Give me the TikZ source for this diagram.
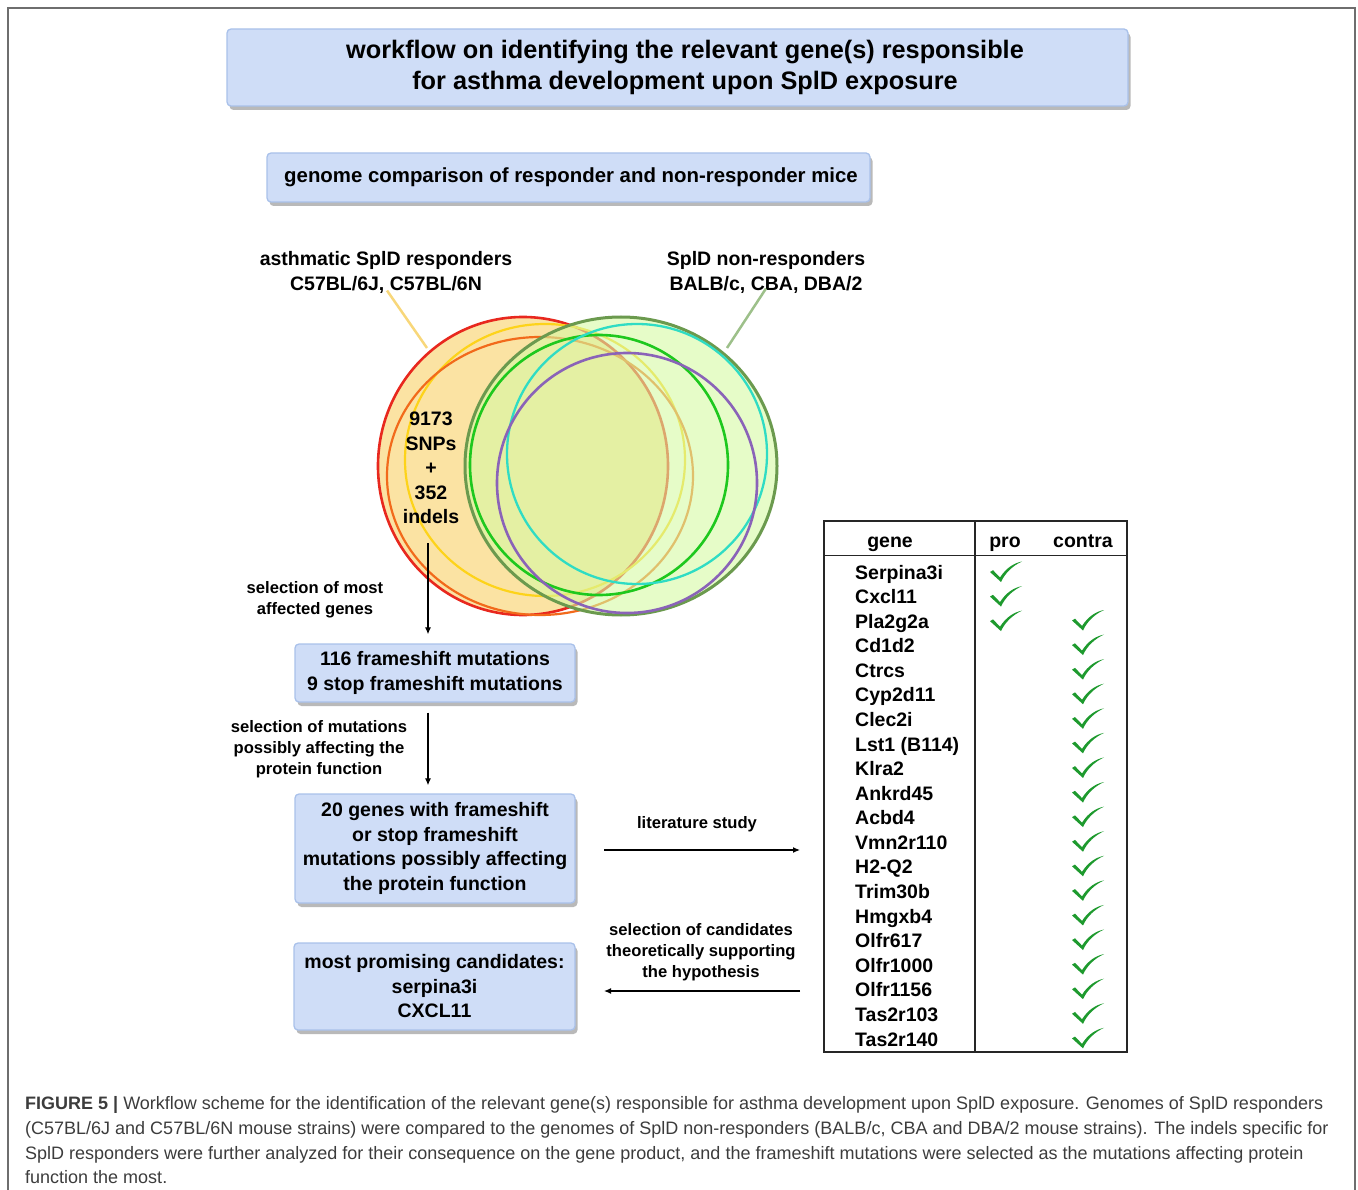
\documentclass[tikz,border=0pt]{standalone}
\usepackage{fontspec}
\setmainfont{Liberation Sans}
\usetikzlibrary{shadows,arrows.meta}
\definecolor{boxfill}{HTML}{CFDDF7}
\definecolor{boxline}{HTML}{A9C1EA}
\definecolor{framegray}{HTML}{6E6E6E}
\definecolor{vred}{HTML}{E8281E}
\definecolor{vyellow}{HTML}{FDD31A}
\definecolor{vorange}{HTML}{F26A1B}
\definecolor{vleftfill}{HTML}{FBE3A3}
\definecolor{vgreenfill}{HTML}{D5FAA3}
\definecolor{volive}{HTML}{6B9A4E}
\definecolor{vgreen}{HTML}{1EC81E}
\definecolor{vcyan}{HTML}{2FDCC4}
\definecolor{vpurple}{HTML}{8A63B8}
\definecolor{leadyellow}{HTML}{F8D77A}
\definecolor{leadgreen}{HTML}{9DC08A}
\definecolor{checkgreen}{HTML}{1E9A2E}
\definecolor{captiongray}{HTML}{3C3C3C}
\begin{document}
\begin{tikzpicture}[x=1pt,y=-1pt,
  flowbox/.style={draw=boxline, fill=boxfill, rounded corners=4pt, line width=1.3pt,
    drop shadow={shadow xshift=2.5pt, shadow yshift=-4pt, fill=black!50, opacity=0.55},
    align=center, inner sep=0pt, font=\bfseries\fontsize{19.5}{24.5}\selectfont},
  lbl/.style={align=center, inner sep=0pt, font=\bfseries\fontsize{19.5}{24.5}\selectfont},
  smalllbl/.style={align=center, inner sep=0pt, font=\bfseries\fontsize{16.6}{21}\selectfont},
  arr/.style={line width=1.2pt, -{Latex[length=7pt,width=6pt]}},
  gene/.style={anchor=base west, inner sep=0pt, font=\bfseries\fontsize{19.5}{24.5}\selectfont},
  hdr/.style={anchor=base, inner sep=0pt, font=\bfseries\fontsize{19.5}{24.5}\selectfont},
  chk/.pic={\fill[checkgreen] (-16,0) -- (-13,-1.8) -- (-6,5.5)
      .. controls (0,-4) and (8,-9) .. (16,-10.5)
      .. controls (7,-6.5) and (-1,1) .. (-5,10) -- cycle;}
]
\useasboundingbox (0,0) rectangle (1358,1190);
\draw[framegray, line width=1.6pt] (8,1190) -- (8,8) -- (1355,8) -- (1355,1190);

% title boxes
\node[flowbox, minimum width=901pt, minimum height=77pt, font=\bfseries\fontsize{25.3}{31}\selectfont]
  (title) at (677.5,67.5) {\hspace*{15pt}\raisebox{-4pt}{workflow on identifying the relevant gene(s) responsible}\\\hspace*{15pt}\raisebox{-4pt}{for asthma development upon SplD exposure}};
\node[flowbox, minimum width=603pt, minimum height=49pt, font=\bfseries\fontsize{20.4}{24.5}\selectfont] (genome) at (568.5,177.5)
  {\hspace*{5pt}genome comparison of responder and non-responder mice};

% group labels
\node[lbl] (resp) at (386,272.5) {asthmatic SplD responders\\C57BL/6J, C57BL/6N};
\node[lbl] (nonresp) at (766,272.5) {SplD non-responders\\BALB/c, CBA, DBA/2};
\coordinate (respend) at (427,348);
\coordinate (nonrespend) at (727,348);
\draw[leadyellow, line width=2.5pt] ([xshift=1pt,yshift=3pt]resp.south) -- (respend);
\draw[leadgreen, line width=2.5pt] ([yshift=5pt]nonresp.south) -- (nonrespend);

% Venn diagram
\fill[vleftfill] (523,466) ellipse [x radius=145, y radius=149];
\draw[vred, line width=2.6pt] (523,466) ellipse [x radius=145, y radius=149];
\draw[vyellow, line width=2.2pt] (545,460) ellipse [x radius=140, y radius=136];
\draw[vorange, line width=2.2pt] (540,476) ellipse [x radius=153, y radius=139];
\fill[vgreenfill, fill opacity=0.6] (621,466) ellipse [x radius=156, y radius=149];
\draw[volive, line width=3pt] (621,466) ellipse [x radius=156, y radius=149];
\draw[vgreen, line width=2.6pt] (599,465) ellipse [x radius=129, y radius=130];
\draw[vcyan, line width=2.3pt] (637,454) ellipse [x radius=130, y radius=130];
\draw[vpurple, line width=2.6pt] (627,483) ellipse [x radius=130, y radius=130];
\node[lbl] (snps) at (431,468) {9173\\SNPs\\+\\352\\indels};

% flow
\node[flowbox, minimum width=280pt, minimum height=58pt] (fs) at (435,673)
  {116 frameshift mutations\\9 stop frameshift mutations};
\node[flowbox, minimum width=280pt, minimum height=109pt] (genes20) at (435,848.5)
  {20 genes with frameshift\\or stop frameshift\\mutations possibly affecting\\the protein function};
\node[flowbox, minimum width=281pt, minimum height=87pt] (cand) at (434.5,986.5)
  {most promising candidates:\\serpina3i\\CXCL11};

\coordinate (a1s) at (428,543);
\draw[arr] (a1s) -- (a1s |- fs.north) [shorten >=9pt];
\draw[arr, shorten <=10pt, shorten >=8pt] ([xshift=-7pt]fs.south) -- ([xshift=-7pt]genes20.north);
\node[smalllbl] (sel1) at (315,599.5) {selection of most\\affected genes};
\node[smalllbl] (sel2) at (319,749) {selection of mutations\\possibly affecting the\\protein function};

% table
\node[draw=black!85, line width=1.5pt, minimum width=303pt, minimum height=531pt, inner sep=0pt] (tbl) at (975.5,786.5) {};
\draw[black!85, line width=1.5pt] (tbl.north) ++(-0.5,0) coordinate (vtop) -- (vtop |- tbl.south);
\draw[black!85, line width=1.5pt] ([yshift=-35pt]tbl.north west) -- ([yshift=-35pt]tbl.north east);
\node[hdr] (hgene) at (890,547) {gene};
\node[hdr] (hpro) at (1005,547) {pro};
\node[hdr] (hcontra) at (1083,547) {contra};
\foreach \g [count=\i from 0] in {Serpina3i,Cxcl11,Pla2g2a,Cd1d2,Ctrcs,Cyp2d11,Clec2i,Lst1 (B114),Klra2,Ankrd45,Acbd4,Vmn2r110,H2-Q2,Trim30b,Hmgxb4,Olfr617,Olfr1000,Olfr1156,Tas2r103,Tas2r140}{
  \node[gene] (g\i) at (855,579+24.58*\i) {\g};
}
\foreach \i in {0,1,2}{ \pic at (1006,572+24.58*\i) {chk}; }
\foreach \i in {2,...,19}{ \pic at (1088,620.5+24.58*\i-49.16) {chk}; }

% literature arrows
\coordinate (lit1) at (604,850);
\coordinate (lit2) at (800,850);
\draw[arr] (lit1) -- (lit2);
\node[smalllbl] (litlbl) at (697,824) {literature study};
\coordinate (back1) at (800,991);
\coordinate (back2) at (604,991);
\draw[arr] (back1) -- (back2);
\node[smalllbl] (backlbl) at (701,952) {selection of candidates\\theoretically supporting\\the hypothesis};

% caption
\node[anchor=north west, align=left, inner sep=0pt, text=captiongray,
  font=\fontsize{18}{24.7}\selectfont] (caption) at (25,1096.5)
  {\textbf{FIGURE 5 |} Workflow scheme for the identification of the relevant gene(s) responsible for asthma development upon SplD exposure. Genomes of SplD responders\\
  (C57BL/6J and C57BL/6N mouse strains) were compared to the genomes of SplD non-responders (BALB/c, CBA and DBA/2 mouse strains). The indels specific for\\
  SplD responders were further analyzed for their consequence on the gene product, and the frameshift mutations were selected as the mutations affecting protein\\
  function the most.};
\end{tikzpicture}
\end{document}
